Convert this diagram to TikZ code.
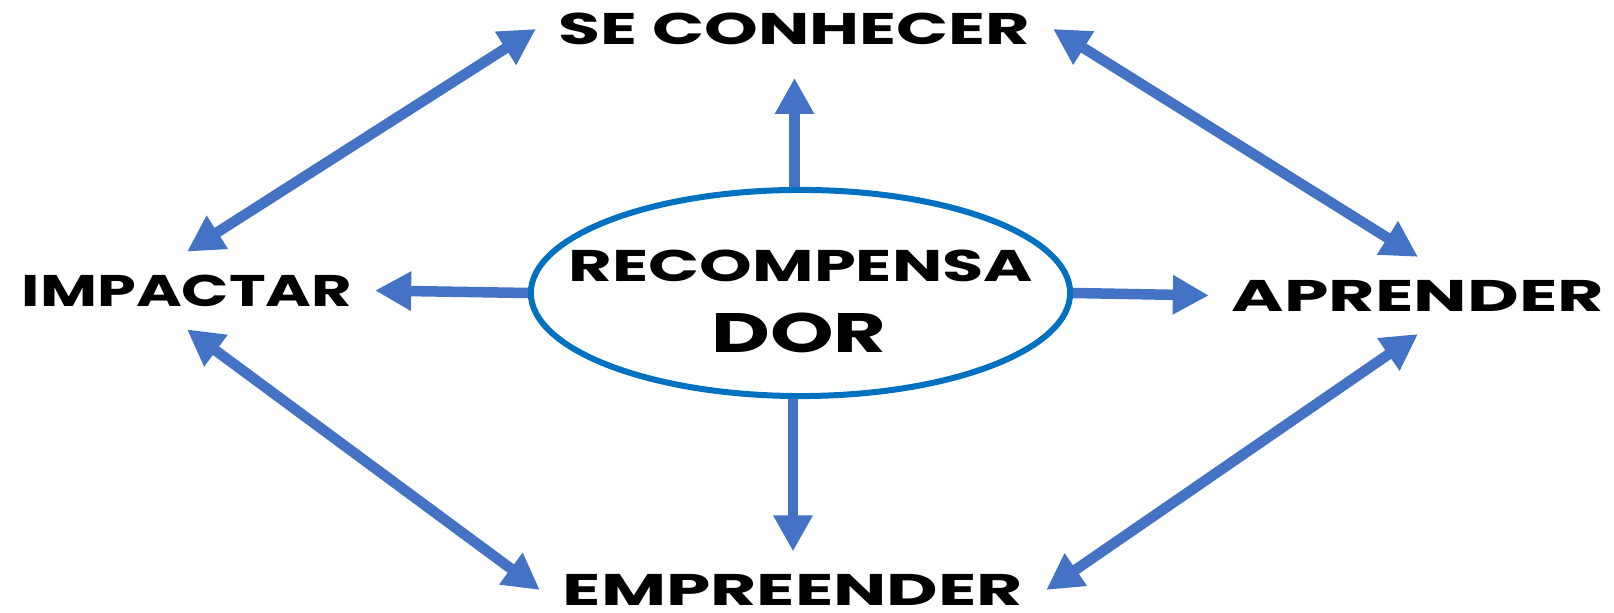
\documentclass[tikz,border=0pt]{standalone}
\usepackage{fontspec}
\newfontfamily\signfont{Poppins}[FakeStretch=1.4]
\usetikzlibrary{shapes.geometric, arrows.meta, positioning}
\definecolor{arrowblue}{HTML}{4472C4}
\definecolor{ringblue}{HTML}{0070C0}
\newcommand\wordfit[2]{\resizebox{#1}{\height}{#2}}
\tikzset{goal/.style={font=\signfont\bfseries\fontsize{12.6}{15}\selectfont, inner sep=0pt, outer sep=0.23cm}}
\tikzset{hub/.style={draw=ringblue, line width=0.06cm, ellipse, minimum width=5.39cm, minimum height=2.06cm, inner sep=0pt}}
\tikzset{hubtext/.style={font=\signfont\bfseries\fontsize{12.6}{15}\selectfont, inner sep=0pt}}
\tikzset{link/.style={arrowblue, line width=0.105cm, -{Triangle[length=0.36cm, width=0.37cm]}}}
\tikzset{twoway/.style={link, {Triangle[length=0.36cm, width=0.37cm]}-{Triangle[length=0.36cm, width=0.37cm]}}}

\begin{document}
\begin{tikzpicture}[x=0.01cm, y=-0.01cm]
\useasboundingbox (0,0) rectangle (1614,613);
\node[hub] (hub) at (800.5,293) {};
\node[hubtext] (recompensa) at (801,265.5) {\wordfit{4.64cm}{RECOMPENSA}};
\node[hubtext, font=\signfont\bfseries\fontsize{15.8}{18}\selectfont] (dor) at (799,333) {\wordfit{1.75cm}{DOR}};

\node[goal] (conhecer) at (794.5,29) {\wordfit{4.71cm}{SE CONHECER}};
\node[goal] (impactar) at (187,290.5) {\wordfit{3.30cm}{IMPACTAR}};
\node[goal] (aprender) at (1418,295.5) {\wordfit{3.72cm}{APRENDER}};
\node[goal] (empreender) at (793,590) {\wordfit{4.60cm}{EMPREENDER}};

\draw[link, shorten >=0.1cm] (conhecer.south |- hub.north) -- (conhecer.south);
\draw[link] (hub.west) -- (impactar.east);
\draw[link] (hub.east) -- (aprender.west);
\draw[link] (empreender.north |- hub.south) -- (empreender.north);
\draw[twoway] (conhecer.west) -- (impactar.north);
\draw[twoway] (conhecer.east) -- (aprender.north);
\draw[twoway] (impactar.south) -- (empreender.west);
\draw[twoway] (aprender.south) -- (empreender.east);
\end{tikzpicture}
\end{document}
